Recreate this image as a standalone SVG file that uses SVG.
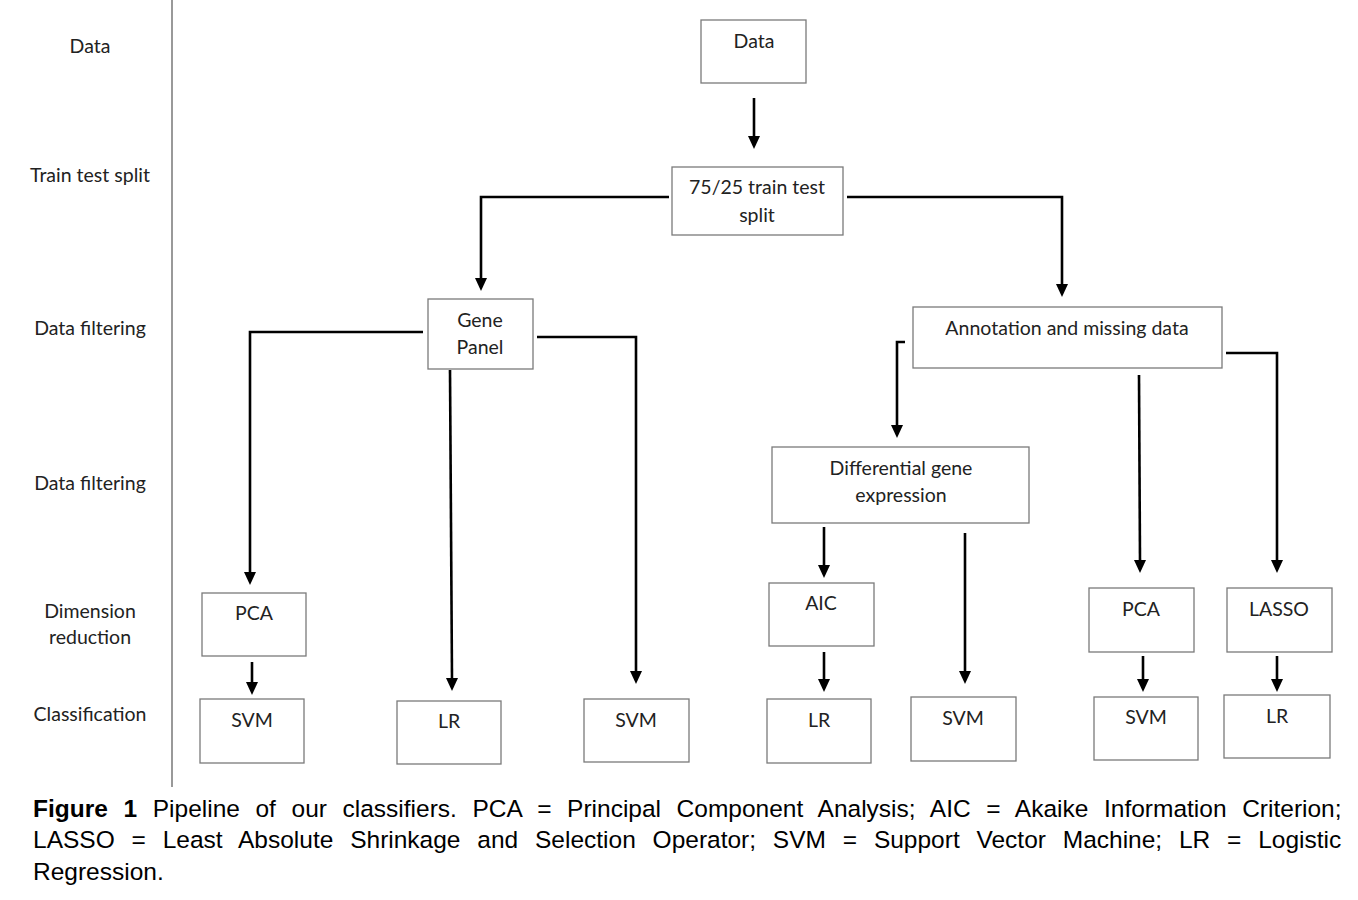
<svg xmlns="http://www.w3.org/2000/svg" width="1358" height="900" viewBox="0 0 1358 900">
<style>
.box{fill:#fff;stroke:#7a7a7a;stroke-width:1.3}
.t{font-family:Lato,"Open Sans",sans-serif;font-size:19.5px;fill:#222;text-anchor:middle}
.lab{font-family:Lato,"Open Sans",sans-serif;font-size:19.5px;fill:#222;text-anchor:middle}
.ln{fill:none;stroke:#000;stroke-width:2.6}
.cap{font-family:"Liberation Sans",Arial,sans-serif;font-size:24.5px;fill:#000}
</style>
<defs>
<path id="head" d="M-6,-13 L6,-13 L0,0 Z" fill="#000"/>
</defs>
<rect width="1358" height="900" fill="#fff"/>
<line x1="172" y1="0" x2="172" y2="787" stroke="#999" stroke-width="2"/>
<g id="stage-labels">
<text class="lab" x="90" y="53">Data</text>
<text class="lab" x="90" y="182">Train test split</text>
<text class="lab" x="90" y="335">Data filtering</text>
<text class="lab" x="90" y="490">Data filtering</text>
<text class="lab" x="90" y="618">Dimension</text>
<text class="lab" x="90" y="644">reduction</text>
<text class="lab" x="90" y="721">Classification</text>
</g>
<g id="connectors">
<path class="ln" d="M754,98 V137"/><use href="#head" x="754" y="149"/>
<path class="ln" d="M669,197 H481 V279"/><use href="#head" x="481" y="291"/>
<path class="ln" d="M847,197 H1062 V285"/><use href="#head" x="1062" y="297"/>
<path class="ln" d="M423,332 H250 V573"/><use href="#head" x="250" y="585"/>
<path class="ln" d="M450,370 L452,679"/><use href="#head" x="452" y="691"/>
<path class="ln" d="M537,337 H636 V672"/><use href="#head" x="636" y="684"/>
<path class="ln" d="M905,342 H897 V426"/><use href="#head" x="897" y="438"/>
<path class="ln" d="M1139,375 L1140,561"/><use href="#head" x="1140" y="573"/>
<path class="ln" d="M1226,353 H1277 V561"/><use href="#head" x="1277" y="573"/>
<path class="ln" d="M824,527 V566"/><use href="#head" x="824" y="578"/>
<path class="ln" d="M965,533 V672"/><use href="#head" x="965" y="684"/>
<path class="ln" d="M824,652 V680"/><use href="#head" x="824" y="692"/>
<path class="ln" d="M252,662 V683"/><use href="#head" x="252" y="695"/>
<path class="ln" d="M1143,656 V680"/><use href="#head" x="1143" y="692"/>
<path class="ln" d="M1277,656 V680"/><use href="#head" x="1277" y="692"/>
</g>
<g id="n-data"><rect class="box" x="701" y="20" width="105" height="63"/><text class="t" x="754" y="48">Data</text></g>
<g id="n-split"><rect class="box" x="672" y="167" width="171" height="68"/><text class="t" x="757" y="194">75/25 train test</text><text class="t" x="757" y="222">split</text></g>
<g id="n-genepanel"><rect class="box" x="428" y="299" width="105" height="70"/><text class="t" x="480" y="327">Gene</text><text class="t" x="480" y="354">Panel</text></g>
<g id="n-annot"><rect class="box" x="913" y="307" width="309" height="61"/><text class="t" x="1067" y="335">Annotation and missing data</text></g>
<g id="n-deg"><rect class="box" x="772" y="447" width="257" height="76"/><text class="t" x="901" y="475">Differential gene</text><text class="t" x="901" y="502">expression</text></g>
<g id="n-pca1"><rect class="box" x="202" y="593" width="104" height="63"/><text class="t" x="254" y="620">PCA</text></g>
<g id="n-svm1"><rect class="box" x="200" y="699" width="104" height="64"/><text class="t" x="252" y="727">SVM</text></g>
<g id="n-lr1"><rect class="box" x="397" y="701" width="104" height="63"/><text class="t" x="449" y="728">LR</text></g>
<g id="n-svm2"><rect class="box" x="584" y="699" width="105" height="63"/><text class="t" x="636" y="727">SVM</text></g>
<g id="n-aic"><rect class="box" x="769" y="583" width="105" height="63"/><text class="t" x="821" y="610">AIC</text></g>
<g id="n-lr2"><rect class="box" x="767" y="699" width="104" height="64"/><text class="t" x="819" y="727">LR</text></g>
<g id="n-svm3"><rect class="box" x="911" y="697" width="105" height="64"/><text class="t" x="963" y="725">SVM</text></g>
<g id="n-pca2"><rect class="box" x="1089" y="588" width="105" height="64"/><text class="t" x="1141" y="616">PCA</text></g>
<g id="n-svm4"><rect class="box" x="1094" y="697" width="104" height="63"/><text class="t" x="1146" y="724">SVM</text></g>
<g id="n-lasso"><rect class="box" x="1227" y="588" width="105" height="64"/><text class="t" x="1279" y="616">LASSO</text></g>
<g id="n-lr3"><rect class="box" x="1224" y="695" width="106" height="63"/><text class="t" x="1277" y="723">LR</text></g>
<g id="caption">
<text class="cap" x="33" y="817" word-spacing="8.8"><tspan font-weight="bold">Figure 1</tspan> Pipeline of our classifiers. PCA = Principal Component Analysis; AIC = Akaike Information Criterion;</text>
<text class="cap" x="33" y="848" word-spacing="10">LASSO = Least Absolute Shrinkage and Selection Operator; SVM = Support Vector Machine; LR = Logistic</text>
<text class="cap" x="33" y="880">Regression.</text>
</g>
</svg>
